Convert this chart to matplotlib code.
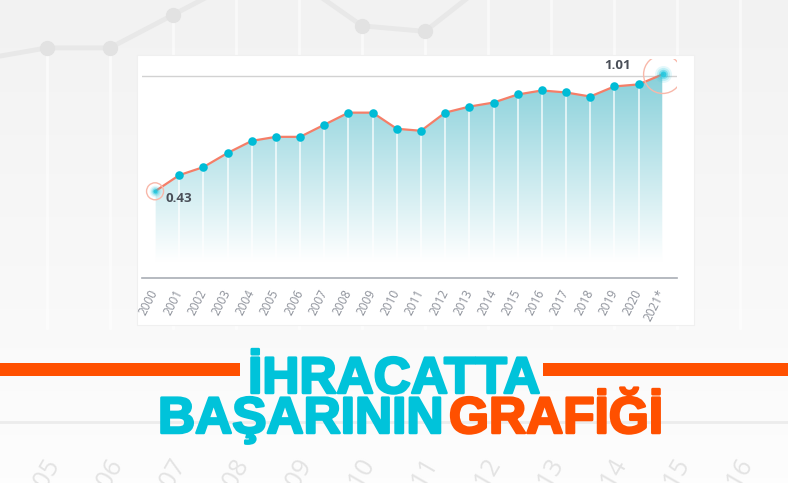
import numpy as np
import matplotlib.pyplot as plt
import matplotlib.patheffects as pe
from matplotlib.colors import LinearSegmentedColormap
from matplotlib.patches import Rectangle, PathPatch

# export values (2000 = 0.43, 2021* = 1.01)
years = list(range(2000, 2022))
values = [0.43, 0.51, 0.55, 0.62, 0.68, 0.70, 0.70, 0.76, 0.82, 0.82, 0.74,
          0.73, 0.82, 0.85, 0.87, 0.91, 0.93, 0.92, 0.90, 0.95, 0.96, 1.01]
tick_labels = [str(y) for y in years[:-1]] + ["2021*"]
bg_years = list(range(2005, 2017))

title_1 = "İHRACATTA"
title_2a = "BAŞARININ"
title_2b = "GRAFİĞİ"

cyan = "#00c3da"
orange = "#ff5000"
salmon = "#f57e68"

fig = plt.figure(figsize=(7.88, 4.83), dpi=100)

# background: the same series, blown up and faded
bg = fig.add_axes([0, 0, 1, 1])
bg.set_xlim(2004.254, 2016.76)
bg.set_ylim(-0.091, 0.787)
bg.axis("off")
grey = LinearSegmentedColormap.from_list("bgg", ["#fdfdfd", "#f2f2f2"])
bg.imshow(np.linspace(0, 1, 100).reshape(-1, 1), extent=[2004.254, 2016.76, -0.091, 0.787],
          origin="lower", cmap=grey, aspect="auto", zorder=0)
for x, v in zip(years, values):
    bg.plot([x, x], [0.19, v], color="white", lw=2, alpha=0.6, zorder=1)
bg.axhline(0.02, color="#ececec", lw=2, zorder=1)
bg.plot(years, values, color="#e8e8e8", lw=3.5, marker="o", ms=10,
        mfc="#e2e2e2", mec="#e2e2e2", zorder=2)
for y in bg_years:
    bg.text(y + 0.12, -0.05, str(y), rotation=60, rotation_mode="anchor", ha="right", va="center",
            fontsize=18, color="#e3e3e3", family="Open Sans", zorder=2)

# white card
bg.add_patch(Rectangle((137 / 788, 1 - 325 / 483), 557 / 788, 270 / 483,
                       transform=bg.transAxes, facecolor="white", edgecolor="#f0f0f0", lw=0.8, zorder=3))

# main chart
ax = fig.add_axes([142 / 788, 1 - 278 / 483, 535 / 788, 219 / 483])
ax.set_facecolor("none")
ax.set_xlim(1999.46, 2021.59)
ax.set_ylim(0, 1.086)

cmap = LinearSegmentedColormap.from_list("fill", [(0, "#ffffff"), (0.08, "#ffffff"), (1, "#88d0da")])
im = ax.imshow(np.linspace(0, 1, 256).reshape(-1, 1), extent=[years[0], years[-1], 0, 1.01],
               origin="lower", cmap=cmap, aspect="auto", zorder=1)
poly = ax.fill_between(years, values, 0, color="none", lw=0)
clip = PathPatch(poly.get_paths()[0], transform=ax.transData, facecolor="none", edgecolor="none")
ax.add_patch(clip)
im.set_clip_path(clip)

for x, v in zip(years, values):
    ax.plot([x, x], [0.07, v], color="white", lw=1.1, alpha=0.85, zorder=2)

ax.axhline(1.0, color="#d2d2d2", lw=1, zorder=1.5)
ax.plot(years, values, color=salmon, lw=1.6, zorder=3)
ax.scatter(years[1:-1], values[1:-1], s=38, color="#00bcd6", zorder=4, lw=0)

# glowing end points
for i, ring, glow in ((0, 150, 70), (-1, 760, 150)):
    for f, a in ((1.0, 0.12), (0.6, 0.2), (0.3, 0.4), (0.12, 0.85)):
        ax.scatter(years[i], values[i], s=glow * f, color="#22c8e0", alpha=a, lw=0, zorder=4)
    ax.scatter(years[i], values[i], s=ring, facecolor="none", edgecolor="#f8b8aa", lw=1, zorder=5)

ax.text(2000.42, 0.395, "0.43", ha="left", va="center", fontsize=9.5, fontweight="bold",
        color="#4a4f58", family="Open Sans")
ax.text(2018.6, 1.056, "1.01", ha="left", va="center", fontsize=9.5, fontweight="bold",
        color="#4a4f58", family="Open Sans")

for side in ("top", "right", "left"):
    ax.spines[side].set_visible(False)
ax.spines["bottom"].set_color("#a9aeb5")
ax.spines["bottom"].set_linewidth(1.2)
ax.set_yticks([])
ax.set_xticks(years)
ax.set_xticklabels(tick_labels, rotation=63, ha="right", va="center", rotation_mode="anchor",
                   fontsize=8.5, color="#8c9099", family="Open Sans")
ax.tick_params(axis="x", length=0, pad=9)

# headline
fig.patches.append(Rectangle((0, 1 - 376 / 483), 240 / 788, 13 / 483, transform=fig.transFigure,
                             facecolor=orange, edgecolor="none", zorder=3))
fig.patches.append(Rectangle((543 / 788, 1 - 376 / 483), 245 / 788, 13 / 483, transform=fig.transFigure,
                             facecolor=orange, edgecolor="none", zorder=3))
tfont = dict(fontsize=37, fontweight="bold", family="Liberation Sans", va="baseline", zorder=4)
fig.text(394 / 788, 1 - 393 / 483, title_1, ha="center", color=cyan,
         path_effects=[pe.withStroke(linewidth=1.8, foreground=cyan)], **tfont)
fig.text(443 / 788, 1 - 433 / 483, title_2a, ha="right", color=cyan,
         path_effects=[pe.withStroke(linewidth=1.8, foreground=cyan)], **tfont)
fig.text(449 / 788, 1 - 433 / 483, title_2b, ha="left", color=orange,
         path_effects=[pe.withStroke(linewidth=1.8, foreground=orange)], **tfont)

fig.savefig("out.png", dpi=100)
